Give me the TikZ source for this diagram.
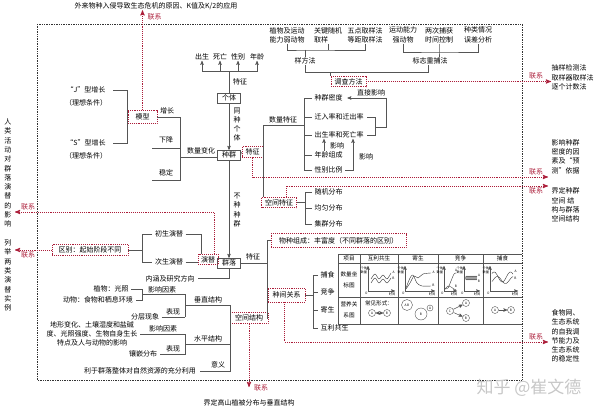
\documentclass[tikz,border=0pt]{standalone}
\usepackage{fontspec}
\setmainfont{Noto Sans CJK SC}
\usetikzlibrary{arrows,positioning,calc}
\definecolor{lkred}{RGB}{172,30,58}
\definecolor{lngray}{RGB}{85,85,85}
\newcommand{\fs}{\fontsize{7}{9.3}\selectfont}
\newcommand{\fm}{\fontsize{5.6}{10.5}\selectfont}
\newcommand{\fg}{\fontsize{3.2}{3.6}\selectfont}

\begin{document}
\begin{tikzpicture}[x=1pt, y=-1pt, >=stealth',
    txt/.style={inner sep=0.5pt, font=\fs, align=center, text=black},
    bx/.style={draw=lngray, inner xsep=4.5pt, inner ysep=1.8pt, font=\fs},
    rbx/.style={draw=lkred, densely dotted, line width=0.9pt, inner xsep=3.5pt, inner ysep=2.2pt, font=\fs},
    ln/.style={draw=lngray, line width=0.5pt},
    lk/.style={draw=lkred, densely dotted, line width=0.9pt, ->},
    lxt/.style={text=lkred, font=\fs, inner sep=0.5pt},
    tb/.style={inner sep=0.3pt, font=\fm, align=center},
    tg/.style={inner sep=0.2pt, font=\fg, align=center},
    ab/.style={draw=lngray, circle, inner sep=0.3pt, minimum size=7pt, font=\fg},
    gc/.style={draw=black!80, line width=0.4pt}]
    \useasboundingbox (0,0) rectangle (600,412);

    % title and frame
    \node [txt] (ttl) at (156,6) {外来物种入侵导致生态危机的原因、K值及K/2的应用};
    \node [lxt, anchor=west] (x0) at (147,17) {联系};
    \draw [black!80, densely dotted, line width=0.7pt] (37,24) rectangle (522,380);

    % 个体
    \node [txt] (f1) at (202,57) {出生};
    \node [txt] (f2) at (220,57) {死亡};
    \node [txt] (f3) at (238,57) {性别};
    \node [txt] (f4) at (257,57) {年龄};
    \coordinate (h1) at (229,71);
    \node [bx] (gt) at (229,98) {个体};
    \node [txt] (gtz) at (240,82) {特征};
    \draw [ln] (gt.north) -- (h1);
    \foreach \n in {f1,f2,f3,f4}
        \draw [ln,->] (h1) -| (\n.south);
    \node [txt] (tzg) at (237,124.5) {同\\种\\个\\体};
    \node [bx] (zq) at (229,155) {种群};
    \draw [ln,->] (gt.south) -- (zq.north);

    % 数量变化 / 模型
    \node [txt] (slbh) at (201,151) {数量变化};
    \coordinate (b1) at (180,157);
    \coordinate (b2) at (180,180);
    \coordinate (b3) at (152,180);
    \coordinate (b4) at (152,148);
    \coordinate (b5) at (180,148);
    \draw [ln] (b1) -- (b1 -| zq.west);
    \node [rbx, minimum width=29pt, minimum height=13pt] (mx) at (142.5,117) {模型};
    \node [txt] (zz) at (167,111) {增长};
    \node [txt] (xj) at (166,140) {下降};
    \node [txt] (wd) at (166,173) {稳定};
    \draw [ln] (mx.east) -- (mx.east -| b1) -- (b2) -- (b3);
    \draw [ln] (b4) -- (b5);
    \node [txt] (jz) at (86,90) {“J”型增长};
    \node [txt] (jt) at (86,103) {（理想条件）};
    \node [txt] (sz) at (86,143) {“S”型增长};
    \node [txt] (st) at (86,156) {（理想条件）};
    \draw [ln] ([xshift=7pt]jz.east) -- (jz.east -| mx.west) -- (sz.east -| mx.west) -- ([xshift=7pt]sz.east);
    \draw [lk] (mx.north) -- (mx.north |- ttl.south);

    % 种群特征
    \node [rbx] (tz) at (252.5,152) {特征};
    \draw [ln] (zq.east) -- (tz.west);
    \coordinate (v1) at (263,125);
    \coordinate (v2) at (304,125);
    \node [txt] (slz) at (283,120) {数量特征};
    \node [txt, anchor=west] (m1) at (314,98) {种群密度};
    \node [txt, anchor=west] (m2) at (314,117) {迁入率和迁出率};
    \node [txt, anchor=west] (m3) at (314,135) {出生率和死亡率};
    \node [txt, anchor=west] (m4) at (314,155) {年龄组成};
    \node [txt, anchor=west] (m5) at (314,170) {性别比例};
    \draw [ln] ([xshift=-2pt]m1.west) -- (m1.west -| v2) -- (m5.west -| v2) -- ([xshift=-2pt]m5.west);
    \foreach \n in {m2,m3,m4}
        \draw [ln] (\n.west -| v2) -- ([xshift=-2pt]\n.west);

    \coordinate (z1) at (386,98);
    \coordinate (z2) at (386,127);
    \coordinate (z3) at (375,127);
    \coordinate (z4) at (353,170);
    \node [txt] (zjyx) at (371,92.5) {直接影响};
    \draw [ln,->] (z1) -- ([xshift=4pt]m1.east);
    \draw [ln] (z1) -- (z2) -- (z3);
    \draw [ln] ([xshift=3pt]m2.east) -- (m2.east -| z3) -- (m3.east -| z3) -- ([xshift=3pt]m3.east);
    \draw [ln,->] ([xshift=10pt]m4.north west) -- ([xshift=10pt]m3.south west);
    \node [txt] (yx1) at (337,145.5) {影响};
    \draw [ln,->] ([xshift=2pt]m5.east) -- (z4) -- (z4 |- m3.south);
    \node [txt] (yx2) at (366,157) {影响};

    % 空间特征
    \node [rbx] (kt) at (279,202.5) {空间特征};
    \draw [ln] (v2) -- (v1) -- (v1 |- kt.north);
    \coordinate (v3) at (305,192);
    \node [txt, anchor=west] (k1) at (314,192) {随机分布};
    \node [txt, anchor=west] (k2) at (314,208) {均匀分布};
    \node [txt, anchor=west] (k3) at (314,224) {集群分布};
    \draw [ln] ([xshift=-2pt]k1.west) -- (k1.west -| v3) -- (k3.west -| v3) -- ([xshift=-2pt]k3.west);
    \draw [ln] (kt.east) -- (kt.east -| v3);
    \draw [ln] (k2.west -| v3) -- ([xshift=-2pt]k2.west);

    % 调查方法
    \node [rbx] (dc) at (348.5,81.5) {调查方法};
    \node [txt] (yf) at (305,61) {样方法};
    \node [txt] (bz) at (430,61) {标志重捕法};
    \coordinate (d1) at (305,72);
    \coordinate (d2) at (428,72);
    \draw [ln] (yf.south) -- (d1) -- (d2) -- (d2 |- bz.south);
    \draw [ln] (dc.north west) -- (dc.north west |- d1);
    \node [txt] (p1) at (287,35) {植物及运动\\能力弱动物};
    \node [txt, align=left] (p2) at (328,35) {关键随机\\取样};
    \node [txt] (p3) at (365,35) {五点取样法\\等距取样法};
    \node [txt] (p4) at (403,35) {运动能力\\强动物};
    \node [txt] (p5) at (439,35) {两次捕获\\时间控制};
    \node [txt] (p6) at (478,35) {种类情况\\误差分析};
    \coordinate (e1) at (305,50);
    \coordinate (e2) at (439,52);
    \draw [ln] (p1.south) |- (e1) -| (p3.south);
    \draw [ln] (p2.south) -- (p2.south |- e1);
    \draw [ln] (e1) -- (yf.north);
    \draw [ln] (p4.south) |- (e2) -| (p6.south);
    \draw [ln] (p5.south) -- (e2) -- (e2 |- bz.north);

    % 联系 (right)
    \node [txt, anchor=west, align=left] (r1) at (551,77.5) {抽样检测法\\取样器取样法\\逐个计数法};
    \draw [lk] (dc.east) -- (dc.east -| r1.west);
    \node [lxt] (x1) at (536,75.5) {联系};
    \node [txt, anchor=west, align=left] (r2) at (551,156.5) {影响种群\\密度的因\\素及“预\\测”依据};
    \coordinate (a2) at (548,177);
    \draw [lk] (tz.south) |- (a2);
    \node [lxt] (x2) at (536,172) {联系};
    \node [txt, anchor=west, align=left] (r3) at (551,205) {界定种群\\空间\ 结\\构与群落\\空间结构};
    \coordinate (a3) at (548,186);
    \draw [lk] ([xshift=7pt]kt.north) |- (a3);
    \node [lxt] (x3) at (536,191) {联系};
    \node [txt, anchor=west, align=left] (r4) at (551,336) {食物网、\\生态系统\\的自我调\\节能力及\\生态系统\\的稳定性};

    % 群落
    \node [bx] (ql) at (229,263) {群落};
    \draw [ln,->] (zq.south) -- (ql.north);
    \node [txt] (bzz) at (237,210) {不\\种\\种\\群};
    \node [rbx, inner xsep=3pt] (yt) at (208,259.5) {演替};
    \node [txt] (cs) at (169,234) {初生演替};
    \node [txt] (ccz) at (169,262) {次生演替};
    \node [rbx, inner xsep=6.5pt] (qb) at (90,250) {区别：起始阶段不同};
    \coordinate (q1) at (142,250);
    \draw [ln] (qb.east) -- (q1);
    \draw [ln] ([xshift=-2pt]cs.west) -- (cs.west -| q1) -- (ccz.west -| q1) -- ([xshift=-2pt]ccz.west);
    \draw [ln] ([xshift=2pt]cs.east) -| ([xshift=-7pt]yt.north);
    \draw [ln] ([xshift=2pt]ccz.east) -- (ccz.east -| yt.west);
    \coordinate (l1) at (15,212);
    \coordinate (l2) at (15,248);
    \draw [lk] ([xshift=6pt]yt.north) |- (l1);
    \draw [lk] (qb.west) -- (qb.west -| l2);
    \node [lxt] (x5) at (28,207) {联系};
    \node [lxt] (x6) at (28,255) {联系};
    \node [txt, anchor=north] (lt1) at (8,118) {人\\类\\活\\动\\对\\群\\落\\演\\替\\的\\影\\响};
    \node [txt, anchor=north] (lt2) at (8,239) {列\\举\\两\\类\\演\\替\\实\\例};
    \node [txt] (nh) at (170,278.5) {内涵及研究方向};
    \draw [ln] ([xshift=3pt]nh.east) -| (ql.south);

    % 群落特征
    \node [txt] (qtz) at (253,257) {特征};
    \coordinate (v4) at (267,263);
    \draw [ln] (ql.east) -- (v4);
    \node [rbx, inner xsep=8pt, minimum height=14pt] (wz) at (338.5,240.5) {物种组成：丰富度（不同群落的区别）};
    \node [rbx, inner xsep=4.5pt, minimum height=14pt] (zj) at (286.5,295) {种间关系};
    \node [rbx, inner xsep=5pt] (kj) at (249,318) {空间结构};
    \draw [ln] (wz.west) -- (wz.west -| v4) -- (kj.east -| v4) -- (kj.east);

    % 种间关系
    \coordinate (v5) at (313,275);
    \node [txt, anchor=west] (j1) at (320,275) {捕食};
    \node [txt, anchor=west] (j2) at (320,292) {竞争};
    \node [txt, anchor=west] (j3) at (320,310) {寄生};
    \node [txt, anchor=west] (j4) at (320,328) {互利共生};
    \draw [ln] ([xshift=-2pt]j1.west) -- (j1.west -| v5) -- (j4.west -| v5) -- ([xshift=-2pt]j4.west);
    \foreach \n in {j2,j3}
        \draw [ln] (\n.west -| v5) -- ([xshift=-2pt]\n.west);
    \draw [ln] (zj.east) -- (zj.east -| v5);
    \coordinate (a4) at (548,342);
    \draw [lk] ([xshift=-2pt]zj.south) |- (a4);
    \node [lxt] (x4) at (536,336.5) {联系};

    % table
    \foreach \x in {338,360,398,438,483}
        \draw [ln] (\x,254) -- (\x,324);
    \foreach \y in {254,263,297,324}
        \draw [ln] (338,\y) -- (522,\y);
    \node [tb] (h0) at (349,258.5) {项目};
    \node [tb] (h1n) at (379,258.5) {互利共生};
    \node [tb] (h2) at (418,258.5) {寄生};
    \node [tb] (h3) at (460.5,258.5) {竞争};
    \node [tb] (h4) at (502.5,258.5) {捕食};
    \node [tb] (sl1) at (349,280) {数量坐\\标图};
    \node [tb] (yy1) at (349,310) {营养关\\系图};
    \foreach \ox/\w/\i in {368/27/1, 405/30/2, 444/13/3, 464/16/4, 490/28/5} {
        \draw [ln,->] (\ox,291) -- (\ox,266);
        \draw [ln,->] (\ox,291) -- (\ox+\w,291);
        \node [tg, anchor=north east] (o\i) at (\ox,291.5) {O};
        \node [tg, anchor=north] (tm\i) at (\ox+\w-3,292) {时间};
        \node [tg, anchor=east] (gy\i) at (\ox-0.5,270) {个体\\数量};
    }
    \begin{scope}[shift={(368,291)}]
        \draw [gc] plot[smooth] coordinates {(3,-12) (7,-17) (11,-12) (15,-16) (19,-12) (23,-18)};
        \draw [gc] plot[smooth] coordinates {(3,-8) (7,-13) (11,-8) (15,-12) (19,-8) (23,-13)};
        \node [tg] (ga1) at (25.5,-19) {A};
        \node [tg] (gb1) at (25.5,-13) {B};
    \end{scope}
    \begin{scope}[shift={(405,291)}]
        \draw [gc] plot[smooth] coordinates {(1,-2) (5,-8) (9,-15) (13,-13) (18,-17) (26,-18)};
        \draw [gc] plot[smooth] coordinates {(1,-3) (5,-13) (8,-16) (12,-8) (17,-5) (26,-5)};
        \node [tg] (ga2) at (28.5,-18.5) {A};
        \node [tg] (gb2) at (28.5,-5.5) {B};
    \end{scope}
    \begin{scope}[shift={(444,291)}]
        \draw [gc] plot[smooth] coordinates {(1,-2) (4,-3) (7,-10) (10,-17) (12,-18)};
        \draw [gc] plot[smooth] coordinates {(1,-2) (4,-5) (7,-4) (10,-2) (12,-1.5)};
        \node [tg] (ga3) at (12,-20.5) {A};
        \node [tg] (gb3) at (12,-5) {B};
    \end{scope}
    \begin{scope}[shift={(464,291)}]
        \draw [gc] plot[domain=1.5:13, samples=40, smooth] (\x,{-13-2*sin(\x*90)});
        \draw [gc] plot[domain=1.5:13, samples=40, smooth] (\x,{-13+2*sin(\x*90)});
        \node [tg] (ga4) at (15,-16) {A};
        \node [tg] (gb4) at (15,-10) {B};
    \end{scope}
    \begin{scope}[shift={(490,291)}]
        \draw [gc] plot[domain=2:23, samples=40, smooth] (\x,{-14-5*sin(\x*22)});
        \draw [gc] plot[domain=2:23, samples=40, smooth] (\x,{-11-3.5*sin(\x*22-70)});
        \node [tg] (ga5) at (25.5,-20) {A};
        \node [tg] (gb5) at (25.5,-13) {B};
    \end{scope}
    \node [tb] (cj) at (379,303) {常见形式：};
    \node [ab] (ca) at (372,313) {A};
    \node [ab] (cb) at (387,313) {B};
    \draw [ln,<->] (ca) -- (cb);
    \node [ab, minimum size=11pt] (jq) at (407,305) {A\,B};
    \node [ab, minimum size=12pt] (jb) at (421,314) {B};
    \node [ab, minimum size=6pt] (ja) at (430,308) {A};
    \node [ab] (kc) at (450,311) {C};
    \node [ab] (ka) at (466,303) {A};
    \node [ab] (kb) at (466,318) {B};
    \draw [ln,->] (kc) -- (ka);
    \draw [ln,->] (kc) -- (kb);
    \node [ab] (pa) at (495,310) {A};
    \node [ab] (pb) at (511,310) {B};
    \draw [ln,->] (pa) -- (pb);

    % 空间结构
    \coordinate (v6) at (230,305);
    \node [txt] (cz) at (208,300) {垂直结构};
    \node [txt] (sp) at (208,338.5) {水平结构};
    \node [txt] (yy) at (218,364.5) {意义};
    \node [txt] (ly) at (140,371) {利于群落整体对自然资源的充分利用};
    \coordinate (g1) at (185,305);
    \coordinate (g2) at (185,344);
    \draw [ln] (g1) -- (v6) -- (v6 |- ly.east) -- ([xshift=3pt]ly.east);
    \draw [ln] (g2) -- (g2 -| v6);
    \node [txt] (zw) at (111,289) {植物：光照};
    \node [txt] (dw) at (98,300) {动物：食物和栖息环境};
    \coordinate (h2) at (142,294.5);
    \draw [ln] ([xshift=2pt]zw.east) -- (zw.east -| h2) -- (dw.east -| h2) -- ([xshift=2pt]dw.east);
    \node [txt] (yx3) at (162,289.5) {影响因素};
    \coordinate (g3) at (185,294.5);
    \coordinate (g4) at (185,317);
    \draw [ln] (h2) -- (g3) -- (g4);
    \node [txt] (fc) at (145,317) {分层现象};
    \node [txt] (bx1) at (173,312) {表现};
    \draw [ln] ([xshift=2pt]fc.east) -- (g4);
    \node [txt] (dx) at (92,334) {地形变化、土壤湿度和盐碱\\度、光照强度、生物自身生长\\特点及人与动物的影响};
    \coordinate (g5) at (185,334);
    \coordinate (g6) at (185,354);
    \node [txt] (yx4) at (163,328.5) {影响因素};
    \node [txt] (xq) at (143,354) {镶嵌分布};
    \node [txt] (bx2) at (173,349) {表现};
    \draw [ln] ([xshift=2pt]dx.east) -- (g5) -- (g6) -- ([xshift=2pt]xq.east);
    \coordinate (a5) at (248,387);
    \draw [lk] (kj.south) -- (kj.south |- a5);
    \node [lxt] (x7) at (261,388) {联系};
    \node [txt] (gs) at (249,403) {界定高山植被分布与垂直结构};

    \node [text=black!22, font=\fontsize{17}{17}\selectfont, inner sep=0pt] (wm) at (529,388) {知乎 @崔文德};
\end{tikzpicture}
\end{document}
